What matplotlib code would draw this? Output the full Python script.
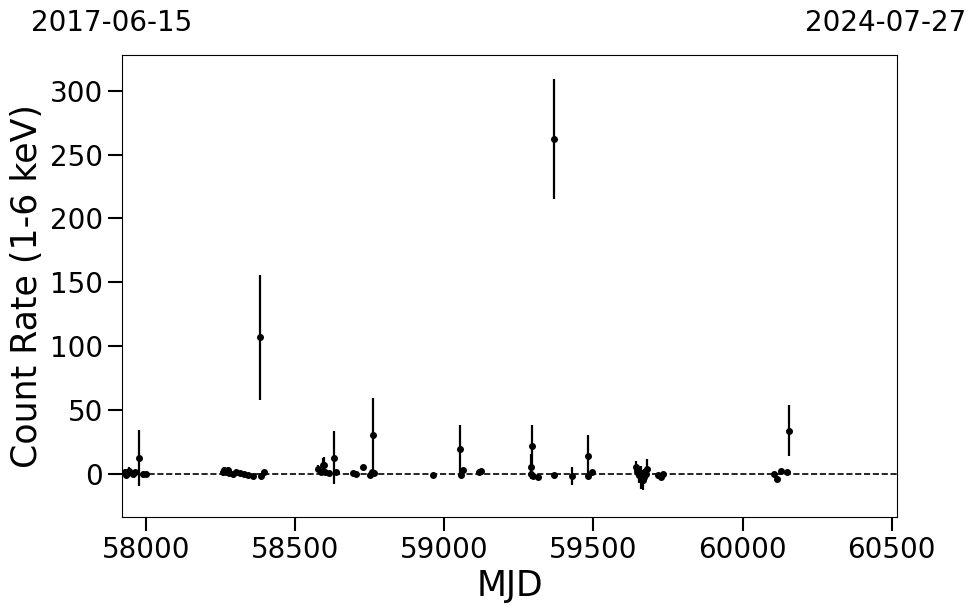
import matplotlib
matplotlib.use("Agg")
import matplotlib.pyplot as plt
import numpy as np

# light curve, MJD / count rate (1-6 keV) / 1-sigma error
mjd = [57930, 57933, 57940, 57943, 57956, 57963, 57977, 57990, 58000,
       58258, 58262, 58268, 58273, 58278, 58291, 58302, 58315, 58328, 58342,
       58358, 58382, 58385, 58395,
       58576, 58586, 58593, 58596, 58600, 58613, 58630, 58637,
       58693, 58704, 58727, 58750, 58757, 58760, 58764,
       58961, 59052, 59055, 59062, 59116, 59122,
       59290, 59291, 59293, 59297, 59313, 59367, 59369, 59427, 59481, 59483, 59494,
       59642, 59645, 59648, 59652, 59658, 59665, 59668, 59675, 59678,
       59718, 59725, 59732,
       60107, 60117, 60130, 60150, 60157]
rate = [1.0, -1.0, 0.5, 2.0, 0.0, 1.0, 12.5, -0.5, 0.0,
        1.0, 2.5, 1.5, 3.0, 0.5, -0.5, 1.5, 0.5, -0.5, -1.0,
        -2.0, 107.0, -2.0, 1.5,
        4.0, 1.0, 6.5, 7.0, 1.0, 0.5, 12.5, 1.0,
        0.5, 0.0, 5.5, -1.0, 1.0, 30.5, 0.5,
        -1.0, 19.0, -1.0, 3.0, 1.5, 2.0,
        0.0, 5.5, 22.0, -1.5, -3.0, 262.0, -1.0, -2.0, 14.0, -1.5, 1.5,
        5.0, 2.0, 0.5, -1.0, -3.0, -5.0, -2.5, 0.0, 4.0,
        -1.0, -3.0, -0.5,
        0.0, -4.0, 2.0, 1.0, 33.5]
err = [2.5, 2.0, 2.0, 3.0, 1.5, 1.5, 22.0, 1.5, 1.5,
       3.0, 2.5, 2.0, 2.0, 1.5, 1.5, 1.5, 1.5, 1.5, 1.5,
       1.5, 49.0, 1.5, 1.5,
       3.0, 2.0, 6.0, 6.0, 2.0, 1.5, 21.0, 1.5,
       1.5, 1.5, 1.5, 2.0, 2.0, 29.0, 1.5,
       1.5, 19.0, 2.0, 1.5, 1.5, 1.5,
       2.0, 9.5, 16.0, 2.0, 1.5, 47.0, 1.5, 7.0, 16.5, 1.5, 1.5,
       5.0, 4.0, 4.0, 6.0, 9.0, 7.5, 6.0, 5.0, 7.5,
       1.5, 2.0, 1.5,
       1.5, 2.5, 1.5, 1.5, 20.0]

start_label, end_label = "2017-06-15", "2024-07-27"
mjd_start, mjd_end = 57919, 60518

fig = plt.figure(figsize=(9.74, 6.13), dpi=100)
ax = fig.add_axes([0.1253, 0.1566, 0.7957, 0.7537])

ax.errorbar(mjd, rate, yerr=err, fmt="o", color="black", ms=4,
            elinewidth=1.6, capsize=0, zorder=3)
ax.axhline(0, color="black", ls="--", lw=1.2, zorder=2)

ax.set_xlim(mjd_start, mjd_end)
ax.set_ylim(-34, 328)
ax.set_xticks([58000, 58500, 59000, 59500, 60000, 60500])
ax.set_yticks([0, 50, 100, 150, 200, 250, 300])

ax.tick_params(axis="both", which="major", labelsize=20, length=10, width=1.5)
ax.set_xlabel("MJD", fontsize=25)
ax.set_ylabel("Count Rate (1-6 keV)", fontsize=25)

fig.text(0.115, 0.962, start_label, fontsize=20, ha="center", va="center")
fig.text(0.909, 0.962, end_label, fontsize=20, ha="center", va="center")

fig.savefig("out.png", dpi=100)
